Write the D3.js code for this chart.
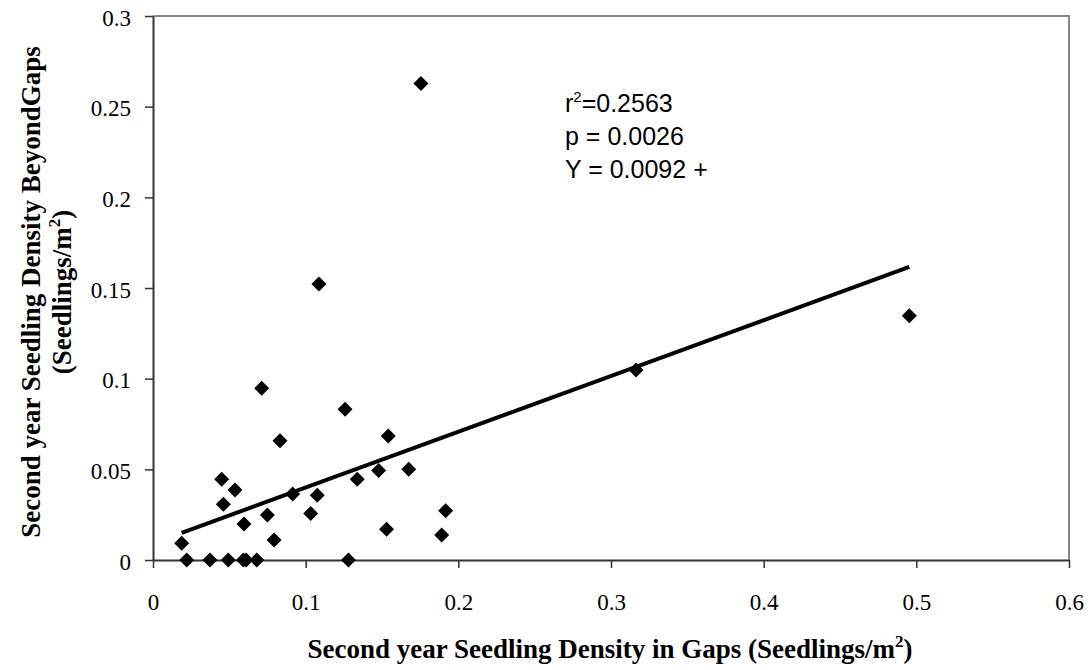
<!DOCTYPE html>
<html>
<head>
<meta charset="utf-8">
<script src="https://cdn.jsdelivr.net/npm/d3@7"></script>
<style>
  body { margin: 0; background: #fff; }
  svg { display: block; }
</style>
</head>
<body>
<div id="chart"></div>
<script>
const width = 1091;
const height = 670;
const margin = { top: 16, right: 22, bottom: 110, left: 153 };
const innerW = width - margin.left - margin.right;
const innerH = height - margin.top - margin.bottom;

// seedling density in gaps (x) vs beyond gaps (y)
const gapsX = [0.0188, 0.0221, 0.0373, 0.0493, 0.0592, 0.061, 0.068, 0.128,
  0.0712, 0.1258, 0.1541, 0.0832, 0.045, 0.0537, 0.0461, 0.0915, 0.1076,
  0.1338, 0.1478, 0.1675, 0.0749, 0.0596, 0.1033, 0.0793, 0.153, 0.1917,
  0.1891, 0.1087, 0.1755, 0.3164, 0.4954];
const beyondY = [0.0092, 0, 0, 0, 0, 0, 0, 0,
  0.0947, 0.0831, 0.0684, 0.0658, 0.0445, 0.0386, 0.0307, 0.0364, 0.0357,
  0.0445, 0.0493, 0.05, 0.0248, 0.0199, 0.0257, 0.011, 0.0169, 0.0272,
  0.0138, 0.1522, 0.2628, 0.1048, 0.1347];

const xTicks = [0, 0.1, 0.2, 0.3, 0.4, 0.5, 0.6];
const yTicks = [0, 0.05, 0.1, 0.15, 0.2, 0.25, 0.3];

// regression: Y = 0.0092 + 0.3076 X
const intercept = 0.0092;
const slope = 0.3076;
const statLines = ["p = 0.0026", "Y = 0.0092 +"];

const svg = d3.select("#chart")
  .append("svg")
  .attr("width", width)
  .attr("height", height);

const g = svg.append("g")
  .attr("transform", `translate(${margin.left}, ${margin.top})`);

const x = d3.scaleLinear().domain([0, 0.6]).range([0, innerW]);
const y = d3.scaleLinear().domain([0, 0.3]).range([innerH, 0]);

// plot frame (grey top/right)
g.append("path")
  .attr("d", `M0,0H${innerW}V${innerH}`)
  .attr("fill", "none")
  .attr("stroke", "#888")
  .attr("stroke-width", 2);

const xAxis = d3.axisBottom(x)
  .tickValues(xTicks)
  .tickFormat(d => d === 0 ? "0" : d3.format(".1f")(d))
  .tickSizeInner(8).tickSizeOuter(0).tickPadding(26);
const yAxis = d3.axisLeft(y)
  .tickValues(yTicks)
  .tickFormat(d => d === 0 ? "0" : String(+d.toFixed(2)))
  .tickSizeInner(8).tickSizeOuter(0).tickPadding(14);

const gx = g.append("g")
  .attr("transform", `translate(0, ${innerH})`)
  .call(xAxis);
const gy = g.append("g").call(yAxis);

[gx, gy].forEach(a => {
  a.attr("font-family", null).attr("font-size", null);
  a.select(".domain").attr("stroke", "#333").attr("stroke-width", 2);
  a.selectAll(".tick line").attr("stroke", "#333").attr("stroke-width", 1.5);
  a.selectAll(".tick text")
    .attr("font-family", "'Liberation Serif', 'Times New Roman', serif")
    .attr("font-size", 23)
    .attr("fill", "#000");
});
gx.selectAll(".tick text").attr("dy", "0.71em");
gy.selectAll(".tick text").attr("dy", "0.4em");

// regression line
const xr = d3.extent(gapsX);
g.append("line")
  .attr("x1", x(xr[0])).attr("y1", y(intercept + slope * xr[0]))
  .attr("x2", x(xr[1])).attr("y2", y(intercept + slope * xr[1]))
  .attr("stroke", "#000")
  .attr("stroke-width", 4);

// diamonds
const diamond = d3.symbol().type(d3.symbolSquare).size(112);
g.selectAll(".pt")
  .data(gapsX.map((v, i) => ({ x: v, y: beyondY[i] })))
  .join("path")
  .attr("class", "pt")
  .attr("d", diamond)
  .attr("transform", d => `translate(${x(d.x)}, ${y(d.y)}) rotate(45)`)
  .attr("fill", "#000");

// stats annotation
const ann = svg.append("g")
  .attr("font-family", "'Liberation Sans', Arial, sans-serif")
  .attr("font-size", 25)
  .attr("fill", "#000");
const r2 = ann.append("text").attr("x", 565).attr("y", 112);
r2.append("tspan").text("r");
r2.append("tspan").attr("dy", -10).attr("font-size", 15).text("2");
r2.append("tspan").attr("dy", 10).text("=0.2563");
ann.selectAll(".stat")
  .data(statLines)
  .join("text")
  .attr("class", "stat")
  .attr("x", 565)
  .attr("y", (d, i) => 145 + i * 33)
  .text(d => d);

// axis titles
const titleFont = "'Liberation Serif', 'Times New Roman', serif";
const xt = svg.append("text")
  .attr("x", 610)
  .attr("y", 658)
  .attr("text-anchor", "middle")
  .attr("font-family", titleFont)
  .attr("font-weight", "bold")
  .attr("font-size", 27);
xt.append("tspan").text("Second year Seedling Density in Gaps (Seedlings/m");
xt.append("tspan").attr("dy", -11).attr("font-size", 17).text("2");
xt.append("tspan").attr("dy", 11).text(")");

const yt = svg.append("g")
  .attr("transform", "translate(0, 292) rotate(-90)")
  .attr("font-family", titleFont)
  .attr("font-weight", "bold")
  .attr("font-size", 27)
  .attr("text-anchor", "middle");
yt.append("text")
  .attr("x", 0).attr("y", 40)
  .text("Second year Seedling Density BeyondGaps");
const yt2 = yt.append("text").attr("x", 0).attr("y", 71);
yt2.append("tspan").text("(Seedlings/m");
yt2.append("tspan").attr("dy", -11).attr("font-size", 17).text("2");
yt2.append("tspan").attr("dy", 11).text(")");
</script>
</body>
</html>
